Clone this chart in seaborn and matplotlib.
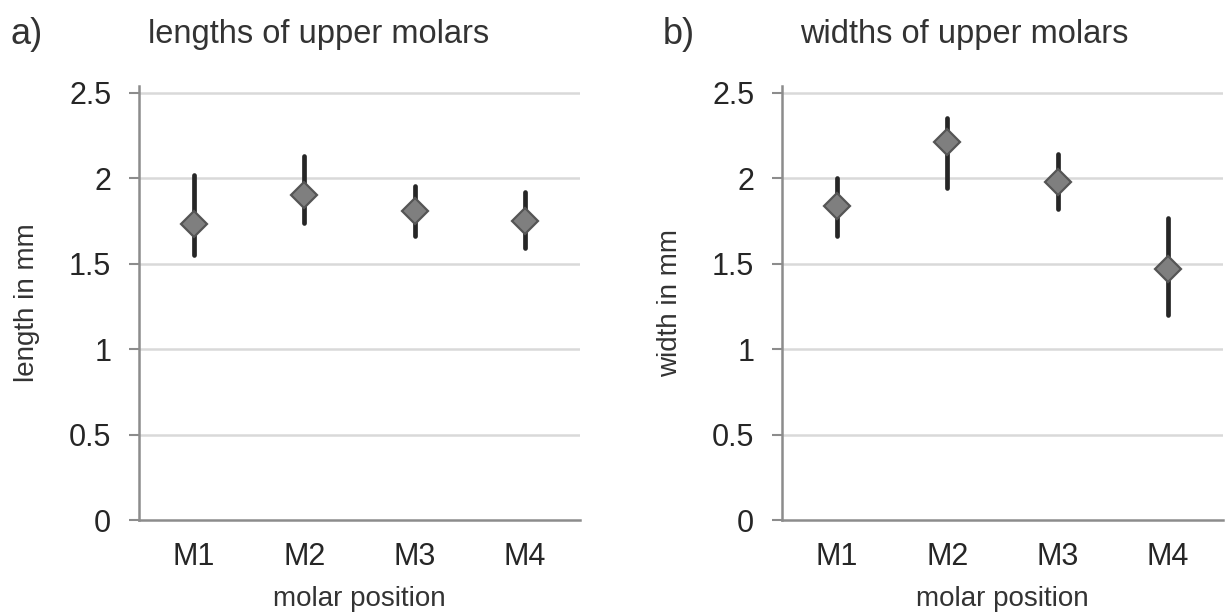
import numpy as np
import pandas as pd
import matplotlib
matplotlib.use("Agg")
import matplotlib.pyplot as plt
import seaborn as sns

# ---- data ----
positions = ["M1", "M2", "M3", "M4"]
length_mean = [1.73, 1.90, 1.81, 1.75]
length_low = [1.55, 1.74, 1.66, 1.59]
length_high = [2.02, 2.13, 1.955, 1.92]
width_mean = [1.84, 2.21, 1.98, 1.47]
width_low = [1.66, 1.945, 1.82, 1.20]
width_high = [2.00, 2.35, 2.14, 1.77]
y_ticks = [0, 0.5, 1, 1.5, 2, 2.5]
y_tick_labels = ["0", "0.5", "1", "1.5", "2", "2.5"]

sns.set_theme(style="white")
plt.rcParams["font.family"] = ["Liberation Sans", "DejaVu Sans"]

TEXT = "#262626"
LABEL = "#333333"
SPINE = "#8c8c8c"
GRID = "#d9d9d9"


def long_frame(mean, low, high):
    rows = []
    for cat, m, lo, hi in zip(positions, mean, low, high):
        for v in (lo, m, hi):
            rows.append({"position": cat, "value": v})
    return pd.DataFrame(rows)


fig = plt.figure(figsize=(12.26, 6.14), dpi=100)
ax1 = fig.add_axes([139 / 1226, 1 - 520 / 614, 441 / 1226, 434 / 614])
ax2 = fig.add_axes([782 / 1226, 1 - 520 / 614, 441 / 1226, 434 / 614])

panels = [
    (ax1, long_frame(length_mean, length_low, length_high), "length in mm"),
    (ax2, long_frame(width_mean, width_low, width_high), "width in mm"),
]

for ax, df, ylab in panels:
    for y in y_ticks[1:]:
        ax.axhline(y, color=GRID, linewidth=1.8, zorder=0)
    sns.pointplot(
        data=df, x="position", y="value", order=positions, ax=ax,
        estimator="median",
        errorbar=lambda v: (np.min(v), np.max(v)),
        linestyle="none", markers="D", color="#7f7f7f",
        markersize=13, markeredgewidth=1.6, markeredgecolor="#555555",
        err_kws={"color": "#262626", "linewidth": 3.4, "zorder": 1},
    )
    for ln in ax.lines:
        if ln.get_marker() == "D":
            ln.set_zorder(3)
            ln.set_markerfacecolor("#7f7f7f")
            ln.set_markeredgecolor("#555555")
    ax.set_xlim(-0.5, 3.5)
    ax.set_ylim(0, 2.54)
    ax.set_yticks(y_ticks)
    ax.set_yticklabels(y_tick_labels)
    ax.set_xlabel("molar position", fontsize=20, color=LABEL)
    ax.set_ylabel(ylab, fontsize=20, color=LABEL)
    ax.xaxis.set_label_coords(0.5, -0.152)
    ax.yaxis.set_label_coords(-0.225, 0.5)
    ax.tick_params(axis="y", labelsize=22, colors=TEXT, length=7, width=1.5,
                   color=SPINE, left=True, pad=13)
    ax.tick_params(axis="x", labelsize=22, colors=TEXT, length=0, pad=16)
    for side in ("top", "right"):
        ax.spines[side].set_visible(False)
    for side in ("left", "bottom"):
        ax.spines[side].set_color(SPINE)
        ax.spines[side].set_linewidth(1.8)
    ax.grid(False)

fig.text(10 / 1226, 1 - 35 / 614, "a)", fontsize=26, color=LABEL, va="center", ha="left")
fig.text(148 / 1226, 1 - 35 / 614, "lengths of upper molars", fontsize=23.5, color=LABEL,
         va="center", ha="left")
fig.text(663 / 1226, 1 - 35 / 614, "b)", fontsize=26, color=LABEL, va="center", ha="left")
fig.text(800 / 1226, 1 - 35 / 614, "widths of upper molars", fontsize=23.5, color=LABEL,
         va="center", ha="left")

fig.savefig("out.png", dpi=100, facecolor="white")
